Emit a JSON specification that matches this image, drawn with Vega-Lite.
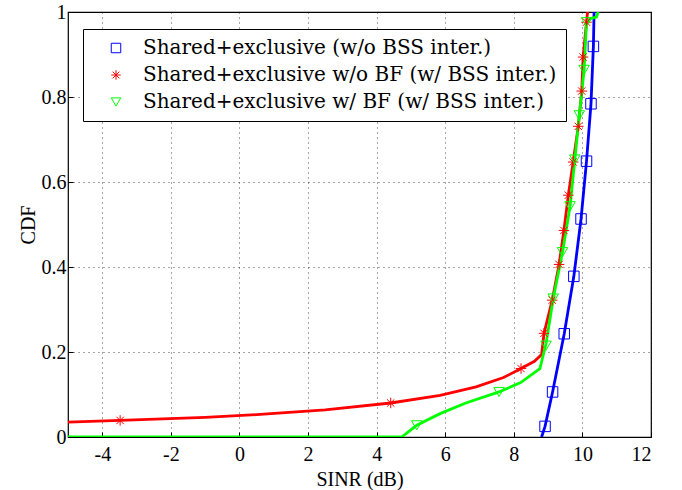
{
  "$schema": "https://vega.github.io/schema/vega-lite/v6.json",
  "width": 583,
  "height": 425,
  "autosize": {"type": "none"},
  "padding": {"left": 68, "top": 12, "right": 31, "bottom": 53},
  "background": "white",
  "datasets": {
    "lines": [
      {"series": "Shared+exclusive (w/o BSS inter.)", "sinr": 8.81, "cdf": 0.0},
      {"series": "Shared+exclusive (w/o BSS inter.)", "sinr": 8.91, "cdf": 0.025},
      {"series": "Shared+exclusive (w/o BSS inter.)", "sinr": 9.13, "cdf": 0.106},
      {"series": "Shared+exclusive (w/o BSS inter.)", "sinr": 9.47, "cdf": 0.243},
      {"series": "Shared+exclusive (w/o BSS inter.)", "sinr": 9.75, "cdf": 0.378},
      {"series": "Shared+exclusive (w/o BSS inter.)", "sinr": 9.96, "cdf": 0.513},
      {"series": "Shared+exclusive (w/o BSS inter.)", "sinr": 10.12, "cdf": 0.649},
      {"series": "Shared+exclusive (w/o BSS inter.)", "sinr": 10.25, "cdf": 0.784},
      {"series": "Shared+exclusive (w/o BSS inter.)", "sinr": 10.32, "cdf": 0.919},
      {"series": "Shared+exclusive (w/o BSS inter.)", "sinr": 10.34, "cdf": 1.0},
      {"series": "Shared+exclusive w/o BF (w/ BSS inter.)", "sinr": -5, "cdf": 0.035},
      {"series": "Shared+exclusive w/o BF (w/ BSS inter.)", "sinr": -3.48, "cdf": 0.039},
      {"series": "Shared+exclusive w/o BF (w/ BSS inter.)", "sinr": -1, "cdf": 0.046},
      {"series": "Shared+exclusive w/o BF (w/ BSS inter.)", "sinr": 0.6, "cdf": 0.053},
      {"series": "Shared+exclusive w/o BF (w/ BSS inter.)", "sinr": 2.5, "cdf": 0.064},
      {"series": "Shared+exclusive w/o BF (w/ BSS inter.)", "sinr": 4.41, "cdf": 0.08},
      {"series": "Shared+exclusive w/o BF (w/ BSS inter.)", "sinr": 5.85, "cdf": 0.098},
      {"series": "Shared+exclusive w/o BF (w/ BSS inter.)", "sinr": 6.9, "cdf": 0.118},
      {"series": "Shared+exclusive w/o BF (w/ BSS inter.)", "sinr": 7.7, "cdf": 0.14},
      {"series": "Shared+exclusive w/o BF (w/ BSS inter.)", "sinr": 8.21, "cdf": 0.161},
      {"series": "Shared+exclusive w/o BF (w/ BSS inter.)", "sinr": 8.6, "cdf": 0.178},
      {"series": "Shared+exclusive w/o BF (w/ BSS inter.)", "sinr": 8.81, "cdf": 0.194},
      {"series": "Shared+exclusive w/o BF (w/ BSS inter.)", "sinr": 8.88, "cdf": 0.244},
      {"series": "Shared+exclusive w/o BF (w/ BSS inter.)", "sinr": 9.12, "cdf": 0.322},
      {"series": "Shared+exclusive w/o BF (w/ BSS inter.)", "sinr": 9.32, "cdf": 0.406},
      {"series": "Shared+exclusive w/o BF (w/ BSS inter.)", "sinr": 9.46, "cdf": 0.486},
      {"series": "Shared+exclusive w/o BF (w/ BSS inter.)", "sinr": 9.59, "cdf": 0.569},
      {"series": "Shared+exclusive w/o BF (w/ BSS inter.)", "sinr": 9.73, "cdf": 0.647},
      {"series": "Shared+exclusive w/o BF (w/ BSS inter.)", "sinr": 9.88, "cdf": 0.731},
      {"series": "Shared+exclusive w/o BF (w/ BSS inter.)", "sinr": 9.98, "cdf": 0.814},
      {"series": "Shared+exclusive w/o BF (w/ BSS inter.)", "sinr": 10.02, "cdf": 0.894},
      {"series": "Shared+exclusive w/o BF (w/ BSS inter.)", "sinr": 10.12, "cdf": 0.976},
      {"series": "Shared+exclusive w/o BF (w/ BSS inter.)", "sinr": 10.15, "cdf": 1.0},
      {"series": "Shared+exclusive w/ BF (w/ BSS inter.)", "sinr": -5, "cdf": 0.0},
      {"series": "Shared+exclusive w/ BF (w/ BSS inter.)", "sinr": 4.73, "cdf": 0.0},
      {"series": "Shared+exclusive w/ BF (w/ BSS inter.)", "sinr": 5.17, "cdf": 0.0275},
      {"series": "Shared+exclusive w/ BF (w/ BSS inter.)", "sinr": 5.85, "cdf": 0.055},
      {"series": "Shared+exclusive w/ BF (w/ BSS inter.)", "sinr": 6.6, "cdf": 0.08},
      {"series": "Shared+exclusive w/ BF (w/ BSS inter.)", "sinr": 7.57, "cdf": 0.106},
      {"series": "Shared+exclusive w/ BF (w/ BSS inter.)", "sinr": 8.2, "cdf": 0.128},
      {"series": "Shared+exclusive w/ BF (w/ BSS inter.)", "sinr": 8.76, "cdf": 0.161},
      {"series": "Shared+exclusive w/ BF (w/ BSS inter.)", "sinr": 8.94, "cdf": 0.22},
      {"series": "Shared+exclusive w/ BF (w/ BSS inter.)", "sinr": 9.15, "cdf": 0.326},
      {"series": "Shared+exclusive w/ BF (w/ BSS inter.)", "sinr": 9.42, "cdf": 0.435},
      {"series": "Shared+exclusive w/ BF (w/ BSS inter.)", "sinr": 9.64, "cdf": 0.543},
      {"series": "Shared+exclusive w/ BF (w/ BSS inter.)", "sinr": 9.78, "cdf": 0.653},
      {"series": "Shared+exclusive w/ BF (w/ BSS inter.)", "sinr": 9.91, "cdf": 0.757},
      {"series": "Shared+exclusive w/ BF (w/ BSS inter.)", "sinr": 10.05, "cdf": 0.864},
      {"series": "Shared+exclusive w/ BF (w/ BSS inter.)", "sinr": 10.12, "cdf": 0.976},
      {"series": "Shared+exclusive w/ BF (w/ BSS inter.)", "sinr": 10.25, "cdf": 0.985},
      {"series": "Shared+exclusive w/ BF (w/ BSS inter.)", "sinr": 10.41, "cdf": 0.988},
      {"series": "Shared+exclusive w/ BF (w/ BSS inter.)", "sinr": 10.46, "cdf": 1.0}
    ],
    "markers": [
      {"series": "Shared+exclusive (w/o BSS inter.)", "sinr": 8.91, "cdf": 0.025},
      {"series": "Shared+exclusive (w/o BSS inter.)", "sinr": 9.13, "cdf": 0.106},
      {"series": "Shared+exclusive (w/o BSS inter.)", "sinr": 9.47, "cdf": 0.243},
      {"series": "Shared+exclusive (w/o BSS inter.)", "sinr": 9.75, "cdf": 0.378},
      {"series": "Shared+exclusive (w/o BSS inter.)", "sinr": 9.96, "cdf": 0.513},
      {"series": "Shared+exclusive (w/o BSS inter.)", "sinr": 10.12, "cdf": 0.649},
      {"series": "Shared+exclusive (w/o BSS inter.)", "sinr": 10.25, "cdf": 0.784},
      {"series": "Shared+exclusive (w/o BSS inter.)", "sinr": 10.32, "cdf": 0.919},
      {"series": "Shared+exclusive w/o BF (w/ BSS inter.)", "sinr": -3.48, "cdf": 0.039},
      {"series": "Shared+exclusive w/o BF (w/ BSS inter.)", "sinr": 4.41, "cdf": 0.08},
      {"series": "Shared+exclusive w/o BF (w/ BSS inter.)", "sinr": 8.21, "cdf": 0.161},
      {"series": "Shared+exclusive w/o BF (w/ BSS inter.)", "sinr": 8.88, "cdf": 0.244},
      {"series": "Shared+exclusive w/o BF (w/ BSS inter.)", "sinr": 9.12, "cdf": 0.322},
      {"series": "Shared+exclusive w/o BF (w/ BSS inter.)", "sinr": 9.32, "cdf": 0.406},
      {"series": "Shared+exclusive w/o BF (w/ BSS inter.)", "sinr": 9.46, "cdf": 0.486},
      {"series": "Shared+exclusive w/o BF (w/ BSS inter.)", "sinr": 9.59, "cdf": 0.569},
      {"series": "Shared+exclusive w/o BF (w/ BSS inter.)", "sinr": 9.73, "cdf": 0.647},
      {"series": "Shared+exclusive w/o BF (w/ BSS inter.)", "sinr": 9.88, "cdf": 0.731},
      {"series": "Shared+exclusive w/o BF (w/ BSS inter.)", "sinr": 9.98, "cdf": 0.814},
      {"series": "Shared+exclusive w/o BF (w/ BSS inter.)", "sinr": 10.02, "cdf": 0.894},
      {"series": "Shared+exclusive w/o BF (w/ BSS inter.)", "sinr": 10.12, "cdf": 0.976},
      {"series": "Shared+exclusive w/ BF (w/ BSS inter.)", "sinr": 5.17, "cdf": 0.0275},
      {"series": "Shared+exclusive w/ BF (w/ BSS inter.)", "sinr": 7.57, "cdf": 0.106},
      {"series": "Shared+exclusive w/ BF (w/ BSS inter.)", "sinr": 8.94, "cdf": 0.215},
      {"series": "Shared+exclusive w/ BF (w/ BSS inter.)", "sinr": 9.15, "cdf": 0.326},
      {"series": "Shared+exclusive w/ BF (w/ BSS inter.)", "sinr": 9.42, "cdf": 0.435},
      {"series": "Shared+exclusive w/ BF (w/ BSS inter.)", "sinr": 9.64, "cdf": 0.543},
      {"series": "Shared+exclusive w/ BF (w/ BSS inter.)", "sinr": 9.78, "cdf": 0.653},
      {"series": "Shared+exclusive w/ BF (w/ BSS inter.)", "sinr": 9.91, "cdf": 0.757},
      {"series": "Shared+exclusive w/ BF (w/ BSS inter.)", "sinr": 10.05, "cdf": 0.864},
      {"series": "Shared+exclusive w/ BF (w/ BSS inter.)", "sinr": 10.12, "cdf": 0.976}
    ]
  },
  "layer": [
    {
      "data": {"name": "lines"},
      "mark": {"type": "line", "strokeWidth": 2.8, "clip": true},
      "encoding": {
        "x": {"field": "sinr", "type": "quantitative", "scale": {"domain": [-5, 12], "nice": false, "zero": false},
              "axis": {"title": "SINR (dB)", "values": [-4, -2, 0, 2, 4, 6, 8, 10, 12], "labelExpr": "toString(datum.value)"}},
        "y": {"field": "cdf", "type": "quantitative", "scale": {"domain": [0, 1], "nice": false},
              "axis": {"title": "CDF", "values": [0, 0.2, 0.4, 0.6, 0.8, 1], "format": ".1~f"}},
        "stroke": {"field": "series", "type": "nominal", "legend": null, "sort": "ascending",
          "scale": {"range": ["#0000ff", "#00ff00", "#ff0000"]}},
        "order": {"field": "cdf", "type": "quantitative"}
      }
    },
    {
      "data": {"name": "markers"},
      "mark": {"type": "point", "filled": false, "strokeWidth": 1, "size": 110, "opacity": 1},
      "encoding": {
        "x": {"field": "sinr", "type": "quantitative"},
        "y": {"field": "cdf", "type": "quantitative"},
        "color": {"field": "series", "type": "nominal",
          "scale": {"domain": ["Shared+exclusive (w/o BSS inter.)", "Shared+exclusive w/o BF (w/ BSS inter.)", "Shared+exclusive w/ BF (w/ BSS inter.)"],
                    "range": ["#0000ff", "#ff0000", "#00ff00"]},
          "legend": {"orient": "none", "legendX": 15, "legendY": 17, "title": null,
            "strokeColor": "black", "fillColor": "white", "padding": 9,
            "labelFont": "DejaVu Serif", "labelFontSize": 20, "labelColor": "black",
            "symbolSize": 90, "symbolStrokeWidth": 1, "rowPadding": 7,
            "symbolOffset": 14, "labelOffset": 17, "labelLimit": 600}},
        "shape": {"field": "series", "type": "nominal",
          "scale": {"domain": ["Shared+exclusive (w/o BSS inter.)", "Shared+exclusive w/o BF (w/ BSS inter.)", "Shared+exclusive w/ BF (w/ BSS inter.)"],
                    "range": ["square", "M-1,0L1,0M0,-1L0,1M-0.7,-0.7L0.7,0.7M-0.7,0.7L0.7,-0.7", "triangle-down"]},
          "legend": {"orient": "none", "legendX": 15, "legendY": 17, "title": null,
            "strokeColor": "black", "fillColor": "white", "padding": 9,
            "labelFont": "DejaVu Serif", "labelFontSize": 20, "labelColor": "black",
            "symbolSize": 90, "symbolStrokeWidth": 1, "rowPadding": 7,
            "symbolOffset": 14, "labelOffset": 17, "labelLimit": 600}}
      }
    }
  ],
  "config": {
    "view": {"stroke": "black", "strokeWidth": 1.2},
    "font": "Liberation Serif",
    "axis": {
      "labelFont": "Liberation Serif", "labelFontSize": 20, "labelColor": "black",
      "titleFont": "Liberation Serif", "titleFontSize": 20, "titleFontWeight": "normal", "titleColor": "black",
      "domain": false, "tickColor": "black", "tickSize": -5, "tickWidth": 1,
      "grid": true, "gridColor": "black", "gridDash": [1, 4], "gridWidth": 1, "gridOpacity": 0.7,
      "labelPadding": 7
    },
    "axisX": {"titlePadding": 5, "labelPadding": 12},
    "axisY": {"titlePadding": 3}
  }
}
